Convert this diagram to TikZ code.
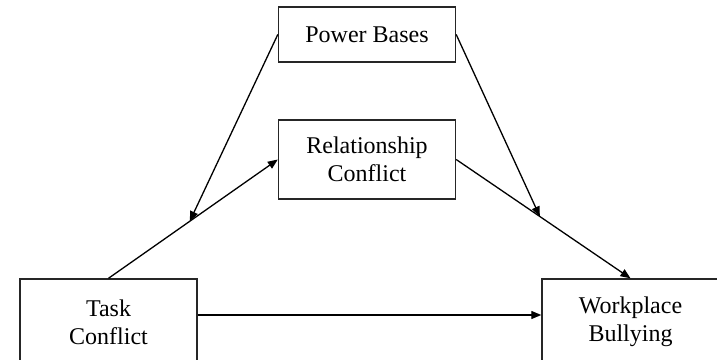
\documentclass[tikz,border=0pt]{standalone}
\usepackage{fontspec}
\setmainfont{Liberation Serif}
\usetikzlibrary{arrows.meta}

\begin{document}
\begin{tikzpicture}[
    box/.style={shape=rectangle, draw=black!85, line width=0.7pt, minimum width=88.5pt,
      align=center, font=\fontsize{12}{14}\selectfont},
    arr/.style={-{Triangle[length=5pt,width=4pt]}, line width=0.65pt}]
    \useasboundingbox (0,0) rectangle (358.5pt,179.5pt);

    \node[box, minimum height=27.5pt] (pb) at (183.5pt,162.25pt) {Power Bases};
    \node[box, minimum height=39.5pt] (rc) at (183.5pt,99.75pt) {Relationship\\Conflict};
    \node[box, minimum height=43pt] (tc) at (54.25pt,18.5pt) {Task\\Conflict};
    \node[box, minimum height=43pt] (wb) at (315.25pt,18.5pt) {Workplace\\Bullying};

    % paths through the mediator
    \draw[arr] (tc.north) -- coordinate[pos=0.48] (m1) (rc.west);
    \draw[arr] (rc.east) -- coordinate[pos=0.48] (m2) (wb.north);
    \draw[arr] ([yshift=3.5pt]tc.east) -- ([yshift=3.5pt]wb.west);
    % moderation
    \draw[arr] (pb.west) -- (m1);
    \draw[arr] (pb.east) -- (m2);
\end{tikzpicture}
\end{document}
